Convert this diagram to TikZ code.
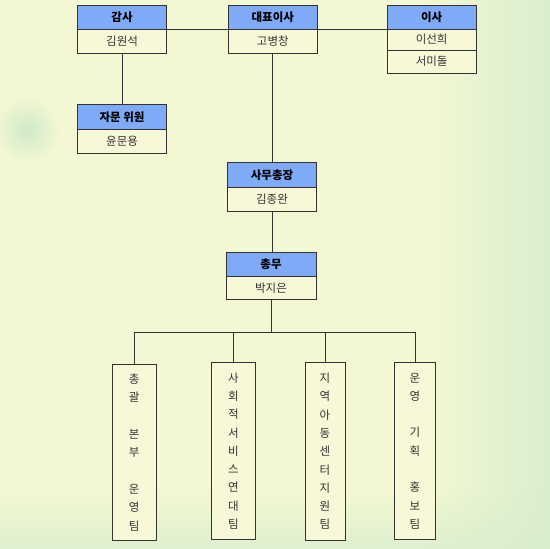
\documentclass[tikz,border=0pt]{standalone}
\usepackage{fontspec}
\setmainfont{Noto Sans CJK KR}
\usetikzlibrary{positioning,fadings}
\definecolor{bgyel}{HTML}{F4F8D2}
\definecolor{bggrn}{HTML}{D9EECF}
\definecolor{blob}{HTML}{CFE9CB}
\definecolor{hdrblue}{HTML}{7FAAF7}
\definecolor{bodyfill}{HTML}{F6F8D8}
\definecolor{edge}{HTML}{333333}
\tikzset{
  part/.style={draw=edge, line width=1pt, inner sep=0pt, outer sep=0pt, anchor=north west, align=center},
  hdr/.style={part, fill=hdrblue, font=\fontsize{11.5}{13}\selectfont\bfseries, text=black},
  bodyrow/.style={part, fill=bodyfill, font=\fontsize{11.5}{13}\selectfont, text=edge},
  team/.style={part, fill=bodyfill, font=\fontsize{11.5}{18.3}\selectfont, text=edge},
  conn/.style={draw=edge, line width=1pt}
}
\begin{document}
\begin{tikzpicture}[x=1pt,y=-1pt]
\useasboundingbox (0,0) rectangle (550,549);
% background
\fill[bgyel] (0,0) rectangle (550,549);
\shade[left color=bgyel, right color=bggrn] (420,0) rectangle (550,549);
\shade[inner color=blob, outer color=bgyel] (27,130) circle (34);
\fill[bggrn, path fading=north, opacity=0.8] (0,490) rectangle (550,549);

% top row
\node[hdr, minimum width=89.5pt, minimum height=24.3pt] (gamsa) at (77.3,5) {감사};
\node[bodyrow, minimum width=89.5pt, minimum height=24pt] (gamsaB) at (77.3,29.3) {김원석};

\node[hdr, minimum width=89pt, minimum height=24.3pt] (ceo) at (228.3,5) {대표이사};
\node[bodyrow, minimum width=89pt, minimum height=24pt] (ceoB) at (228.3,29.3) {고병창};

\node[hdr, minimum width=88.7pt, minimum height=24.3pt] (isa) at (387.3,5) {이사};
\node[bodyrow, minimum width=88.7pt, minimum height=20.7pt] (isaB1) at (387.3,29.3) {이선희};
\node[bodyrow, minimum width=88.7pt, minimum height=23.3pt] (isaB2) at (387.3,50) {서미돌};

% advisor
\node[hdr, minimum width=89.5pt, minimum height=25pt] (jamun) at (77.3,104.3) {자문 위원};
\node[bodyrow, minimum width=89.5pt, minimum height=24pt] (jamunB) at (77.3,129.3) {윤문용};

% secretary general
\node[hdr, minimum width=89.4pt, minimum height=25pt] (samu) at (227.3,162.3) {사무총장};
\node[bodyrow, minimum width=89.4pt, minimum height=24.4pt] (samuB) at (227.3,187.3) {김종완};

% general affairs
\node[hdr, minimum width=90pt, minimum height=24.4pt] (chongmu) at (226,252.3) {총무};
\node[bodyrow, minimum width=90pt, minimum height=22.3pt] (chongmuB) at (226,276.7) {박지은};

% teams
\node[team, minimum width=43.7pt, minimum height=176.5pt] (t1) at (112.3,364.2) {총\\괄\\\mbox{}\\본\\부\\\mbox{}\\운\\영\\팀};
\node[team, minimum width=43.6pt, minimum height=176.6pt] (t2) at (211.7,362.7) {사\\회\\적\\서\\비\\스\\연\\대\\팀};
\node[team, minimum width=40pt, minimum height=177.3pt] (t3) at (305,362.7) {지\\역\\아\\동\\센\\터\\지\\원\\팀};
\node[team, minimum width=41.4pt, minimum height=176.6pt] (t4) at (394.3,362.7) {운\\영\\\mbox{}\\기\\획\\\mbox{}\\홍\\보\\팀};

% connectors
\draw[conn] (gamsaB.north east) -- (ceoB.north west);
\draw[conn] (ceoB.north east) -- (isaB1.north west);
\draw[conn] (gamsaB.south) -- (jamun.north);
\draw[conn] (ceoB.south) ++(-0.5,0) coordinate (c1) -- (c1 |- samu.north);
\draw[conn] (samuB.south) -- (chongmu.north -| samuB.south);
\coordinate (bus) at (0,332);
\draw[conn] (chongmuB.south) -- (chongmuB.south |- bus);
\draw[conn] (t1.north |- bus) -- (t4.north |- bus);
\draw[conn] (t1.north |- bus) -- (t1.north);
\draw[conn] (t2.north |- bus) -- (t2.north);
\draw[conn] (t3.north |- bus) -- (t3.north);
\draw[conn] (t4.north |- bus) -- (t4.north);
\end{tikzpicture}
\end{document}
